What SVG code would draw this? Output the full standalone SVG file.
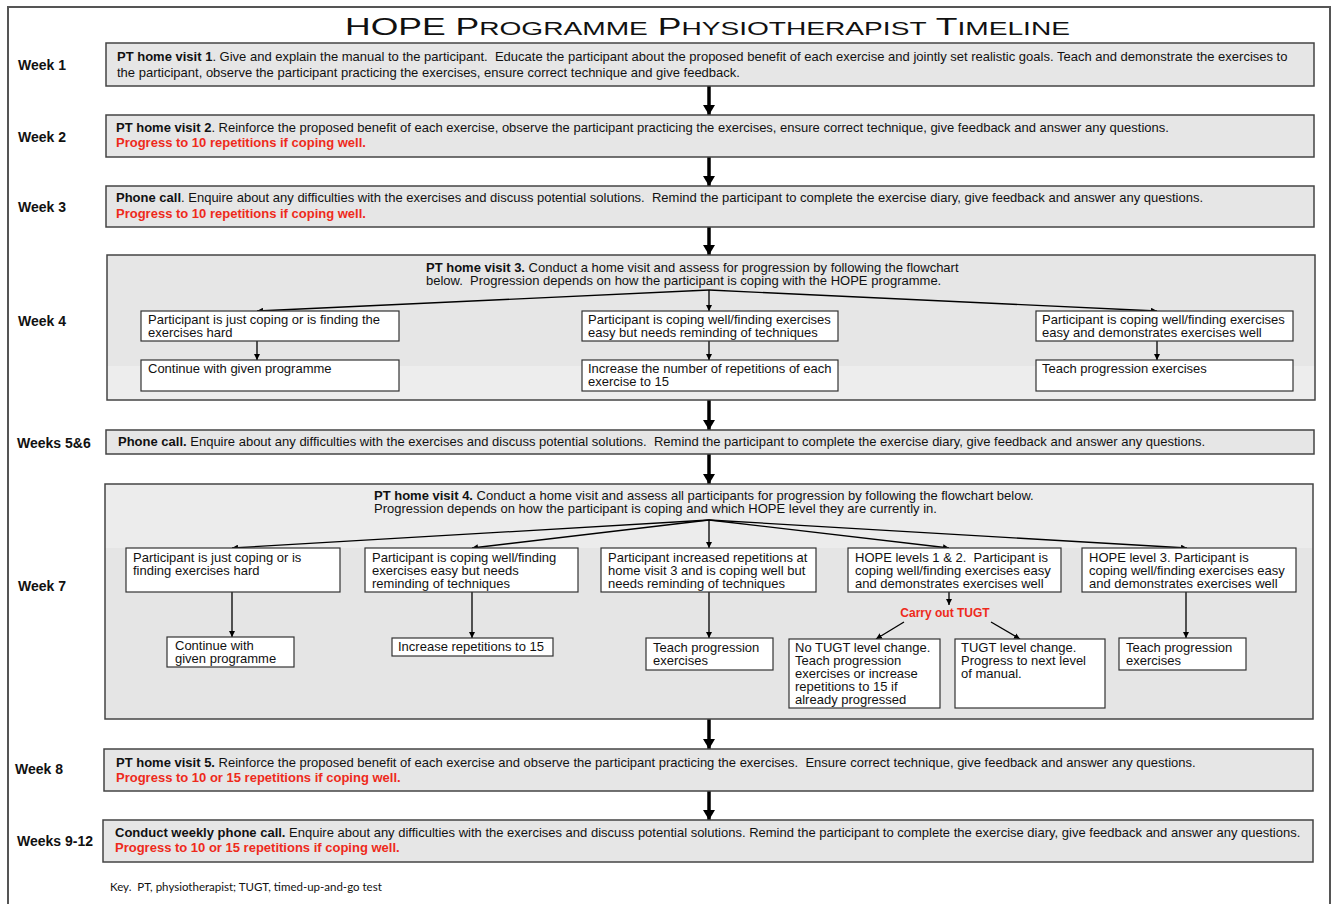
<svg xmlns="http://www.w3.org/2000/svg" width="1337" height="904" viewBox="0 0 1337 904">
<defs>
<marker id="big" viewBox="0 0 10 12" refX="10" refY="6" markerWidth="10" markerHeight="12" markerUnits="userSpaceOnUse" orient="auto"><path d="M0,0 L10,6 L0,12 z" fill="#000"/></marker>
<marker id="sm" viewBox="0 0 6 6" refX="6" refY="3" markerWidth="6" markerHeight="6" markerUnits="userSpaceOnUse" orient="auto"><path d="M0,0 L6,3 L0,6 z" fill="#000"/></marker>
</defs>
<style>
text{white-space:pre}
.t{font-family:"Liberation Sans",Arial,sans-serif;font-size:13px;fill:#111}
.b{font-weight:bold}
.r{fill:#ee2a1b;font-weight:bold}
.wk{font-family:"Liberation Sans",Arial,sans-serif;font-size:14px;font-weight:bold;fill:#111}
.gb{fill:#e6e6e6;stroke:#444;stroke-width:1.5}
.wb{fill:#fff;stroke:#333;stroke-width:1.2}
.thick{stroke:#000;stroke-width:3.5;fill:none;marker-end:url(#big)}
.thin{stroke:#000;stroke-width:1.3;fill:none;marker-end:url(#sm)}
.sc{font-size:19px}
</style>
<rect x="0" y="0" width="1337" height="904" fill="#fff"/>
<rect x="8" y="7" width="1322" height="905" fill="#fff" stroke="#555" stroke-width="2"/>
<text x="345" y="35" font-family="'Liberation Sans',Arial,sans-serif" font-size="24" fill="#111" textLength="725" lengthAdjust="spacingAndGlyphs">HOPE P<tspan class="sc">ROGRAMME</tspan> P<tspan class="sc">HYSIOTHERAPIST</tspan> T<tspan class="sc">IMELINE</tspan></text>

<g id="labels">
<text class="wk" x="18" y="70">Week 1</text>
<text class="wk" x="18" y="142">Week 2</text>
<text class="wk" x="18" y="212">Week 3</text>
<text class="wk" x="18" y="326">Week 4</text>
<text class="wk" x="17" y="448">Weeks 5&amp;6</text>
<text class="wk" x="18" y="591">Week 7</text>
<text class="wk" x="15" y="774">Week 8</text>
<text class="wk" x="17" y="846">Weeks 9-12</text>
</g>

<g id="connectors">
<line class="thick" x1="709" y1="86" x2="709" y2="115"/>
<line class="thick" x1="709" y1="157" x2="709" y2="186"/>
<line class="thick" x1="709" y1="227" x2="709" y2="255"/>
<line class="thick" x1="709" y1="400" x2="709" y2="430"/>
<line class="thick" x1="709" y1="454" x2="709" y2="484"/>
<line class="thick" x1="709" y1="719" x2="709" y2="749"/>
<line class="thick" x1="709" y1="791" x2="709" y2="820"/>
</g>

<g id="week1">
<rect class="gb" x="106" y="43" width="1208" height="43"/>
<text class="t" x="117" y="61"><tspan class="b">PT home visit 1</tspan>. Give and explain the manual to the participant.  Educate the participant about the proposed benefit of each exercise and jointly set realistic goals. Teach and demonstrate the exercises to</text>
<text class="t" x="117" y="77">the participant, observe the participant practicing the exercises, ensure correct technique and give feedback.</text>
</g>

<g id="week2">
<rect class="gb" x="106" y="115" width="1208" height="42"/>
<text class="t" x="116" y="132"><tspan class="b">PT home visit 2</tspan>. Reinforce the proposed benefit of each exercise, observe the participant practicing the exercises, ensure correct technique, give feedback and answer any questions.</text>
<text class="t r" x="116" y="147">Progress to 10 repetitions if coping well.</text>
</g>

<g id="week3">
<rect class="gb" x="106" y="186" width="1208" height="41"/>
<text class="t" x="116" y="202"><tspan class="b">Phone call</tspan>. Enquire about any difficulties with the exercises and discuss potential solutions.  Remind the participant to complete the exercise diary, give feedback and answer any questions.</text>
<text class="t r" x="116" y="218">Progress to 10 repetitions if coping well.</text>
</g>

<g id="week4">
<rect x="107" y="255" width="1208" height="145" fill="#e6e6e6"/>
<rect x="107" y="366" width="1208" height="34" fill="#ededed"/>
<rect x="107" y="255" width="1208" height="145" fill="none" stroke="#444" stroke-width="1.5"/>
<text class="t" x="426" y="272"><tspan class="b">PT home visit 3.</tspan> Conduct a home visit and assess for progression by following the flowchart</text>
<text class="t" x="426" y="285">below.  Progression depends on how the participant is coping with the HOPE programme.</text>
<g id="w4-fan">
<line class="thin" x1="709" y1="290" x2="257" y2="311"/>
<line class="thin" x1="709" y1="290" x2="709" y2="311"/>
<line class="thin" x1="709" y1="290" x2="1157" y2="311"/>
<line class="thin" x1="257" y1="341" x2="257" y2="360"/>
<line class="thin" x1="709" y1="341" x2="709" y2="360"/>
<line class="thin" x1="1157" y1="341" x2="1157" y2="360"/>
</g>
<g id="w4-a1"><rect class="wb" x="141" y="311" width="258" height="30"/>
<text class="t" x="148" y="324">Participant is just coping or is finding the</text>
<text class="t" x="148" y="337">exercises hard</text></g>
<g id="w4-a2"><rect class="wb" x="582" y="311" width="256" height="30"/>
<text class="t" x="588" y="324">Participant is coping well/finding exercises</text>
<text class="t" x="588" y="337">easy but needs reminding of techniques</text></g>
<g id="w4-a3"><rect class="wb" x="1036" y="311" width="257" height="30"/>
<text class="t" x="1042" y="324">Participant is coping well/finding exercises</text>
<text class="t" x="1042" y="337">easy and demonstrates exercises well</text></g>
<g id="w4-b1"><rect class="wb" x="141" y="360" width="258" height="31"/>
<text class="t" x="148" y="373">Continue with given programme</text></g>
<g id="w4-b2"><rect class="wb" x="582" y="360" width="256" height="31"/>
<text class="t" x="588" y="373">Increase the number of repetitions of each</text>
<text class="t" x="588" y="386">exercise to 15</text></g>
<g id="w4-b3"><rect class="wb" x="1036" y="360" width="257" height="31"/>
<text class="t" x="1042" y="373">Teach progression exercises</text></g>
</g>

<g id="week56">
<rect class="gb" x="106" y="430" width="1208" height="24"/>
<text class="t" x="118" y="446"><tspan class="b">Phone call.</tspan> Enquire about any difficulties with the exercises and discuss potential solutions.  Remind the participant to complete the exercise diary, give feedback and answer any questions.</text>
</g>

<g id="week7">
<rect x="105" y="484" width="1208" height="235" fill="#e5e5e5"/>
<rect x="105" y="484" width="1208" height="64" fill="#ececec"/>
<rect x="105" y="484" width="1208" height="235" fill="none" stroke="#444" stroke-width="1.5"/>
<text class="t" x="374" y="500"><tspan class="b">PT home visit 4.</tspan> Conduct a home visit and assess all participants for progression by following the flowchart below.</text>
<text class="t" x="374" y="513">Progression depends on how the participant is coping and which HOPE level they are currently in.</text>
<g id="w7-fan">
<line class="thin" x1="709" y1="520" x2="232" y2="548"/>
<line class="thin" x1="709" y1="520" x2="472" y2="548"/>
<line class="thin" x1="709" y1="520" x2="709" y2="548"/>
<line class="thin" x1="709" y1="520" x2="949" y2="548"/>
<line class="thin" x1="709" y1="520" x2="1187" y2="548"/>
<line class="thin" x1="232" y1="592" x2="232" y2="637"/>
<line class="thin" x1="472" y1="592" x2="472" y2="638"/>
<line class="thin" x1="709" y1="592" x2="709" y2="638"/>
<line class="thin" x1="949" y1="592" x2="949" y2="605"/>
<line class="thin" x1="1186" y1="592" x2="1186" y2="638"/>
<line class="thin" x1="904" y1="622" x2="876" y2="639"/>
<line class="thin" x1="991" y1="622" x2="1020" y2="639"/>
</g>
<g id="w7-a1"><rect class="wb" x="126" y="548" width="214" height="44"/>
<text class="t" x="133" y="562">Participant is just coping or is</text>
<text class="t" x="133" y="575">finding exercises hard</text></g>
<g id="w7-a2"><rect class="wb" x="365" y="548" width="213" height="44"/>
<text class="t" x="372" y="562">Participant is coping well/finding</text>
<text class="t" x="372" y="575">exercises easy but needs</text>
<text class="t" x="372" y="588">reminding of techniques</text></g>
<g id="w7-a3"><rect class="wb" x="601" y="548" width="215" height="44"/>
<text class="t" x="608" y="562">Participant increased repetitions at</text>
<text class="t" x="608" y="575">home visit 3 and is coping well but</text>
<text class="t" x="608" y="588">needs reminding of techniques</text></g>
<g id="w7-a4"><rect class="wb" x="848" y="548" width="213" height="44"/>
<text class="t" x="855" y="562">HOPE levels 1 &amp; 2.  Participant is</text>
<text class="t" x="855" y="575">coping well/finding exercises easy</text>
<text class="t" x="855" y="588">and demonstrates exercises well</text></g>
<g id="w7-a5"><rect class="wb" x="1082" y="548" width="214" height="44"/>
<text class="t" x="1089" y="562">HOPE level 3. Participant is</text>
<text class="t" x="1089" y="575">coping well/finding exercises easy</text>
<text class="t" x="1089" y="588">and demonstrates exercises well</text></g>
<g id="w7-tugt"><text class="t r" x="945" y="617" text-anchor="middle" font-size="12" style="font-size:12px">Carry out TUGT</text></g>
<g id="w7-b1"><rect class="wb" x="167" y="637" width="127" height="30"/>
<text class="t" x="175" y="650">Continue with</text>
<text class="t" x="175" y="663">given programme</text></g>
<g id="w7-b2"><rect class="wb" x="392" y="638" width="161" height="18"/>
<text class="t" x="398" y="651">Increase repetitions to 15</text></g>
<g id="w7-b3"><rect class="wb" x="646" y="638" width="127" height="32"/>
<text class="t" x="653" y="652">Teach progression</text>
<text class="t" x="653" y="665">exercises</text></g>
<g id="w7-b4"><rect class="wb" x="789" y="639" width="151" height="69"/>
<text class="t" x="795" y="652">No TUGT level change.</text>
<text class="t" x="795" y="665">Teach progression</text>
<text class="t" x="795" y="678">exercises or increase</text>
<text class="t" x="795" y="691">repetitions to 15 if</text>
<text class="t" x="795" y="704">already progressed</text></g>
<g id="w7-b5"><rect class="wb" x="955" y="639" width="150" height="69"/>
<text class="t" x="961" y="652">TUGT level change.</text>
<text class="t" x="961" y="665">Progress to next level</text>
<text class="t" x="961" y="678">of manual.</text></g>
<g id="w7-b6"><rect class="wb" x="1119" y="638" width="127" height="32"/>
<text class="t" x="1126" y="652">Teach progression</text>
<text class="t" x="1126" y="665">exercises</text></g>
</g>

<g id="week8">
<rect class="gb" x="104" y="749" width="1209" height="42"/>
<text class="t" x="116" y="767"><tspan class="b">PT home visit 5.</tspan> Reinforce the proposed benefit of each exercise and observe the participant practicing the exercises.  Ensure correct technique, give feedback and answer any questions.</text>
<text class="t r" x="116" y="782">Progress to 10 or 15 repetitions if coping well.</text>
</g>

<g id="week912">
<rect class="gb" x="103" y="820" width="1210" height="42"/>
<text class="t" x="115" y="837"><tspan class="b">Conduct weekly phone call.</tspan> Enquire about any difficulties with the exercises and discuss potential solutions. Remind the participant to complete the exercise diary, give feedback and answer any questions.</text>
<text class="t r" x="115" y="852">Progress to 10 or 15 repetitions if coping well.</text>
</g>

<text x="110" y="891" font-family="Lato,'Open Sans',sans-serif" font-size="11.5" fill="#111">Key.  PT, physiotherapist; TUGT, timed-up-and-go test</text>
</svg>
